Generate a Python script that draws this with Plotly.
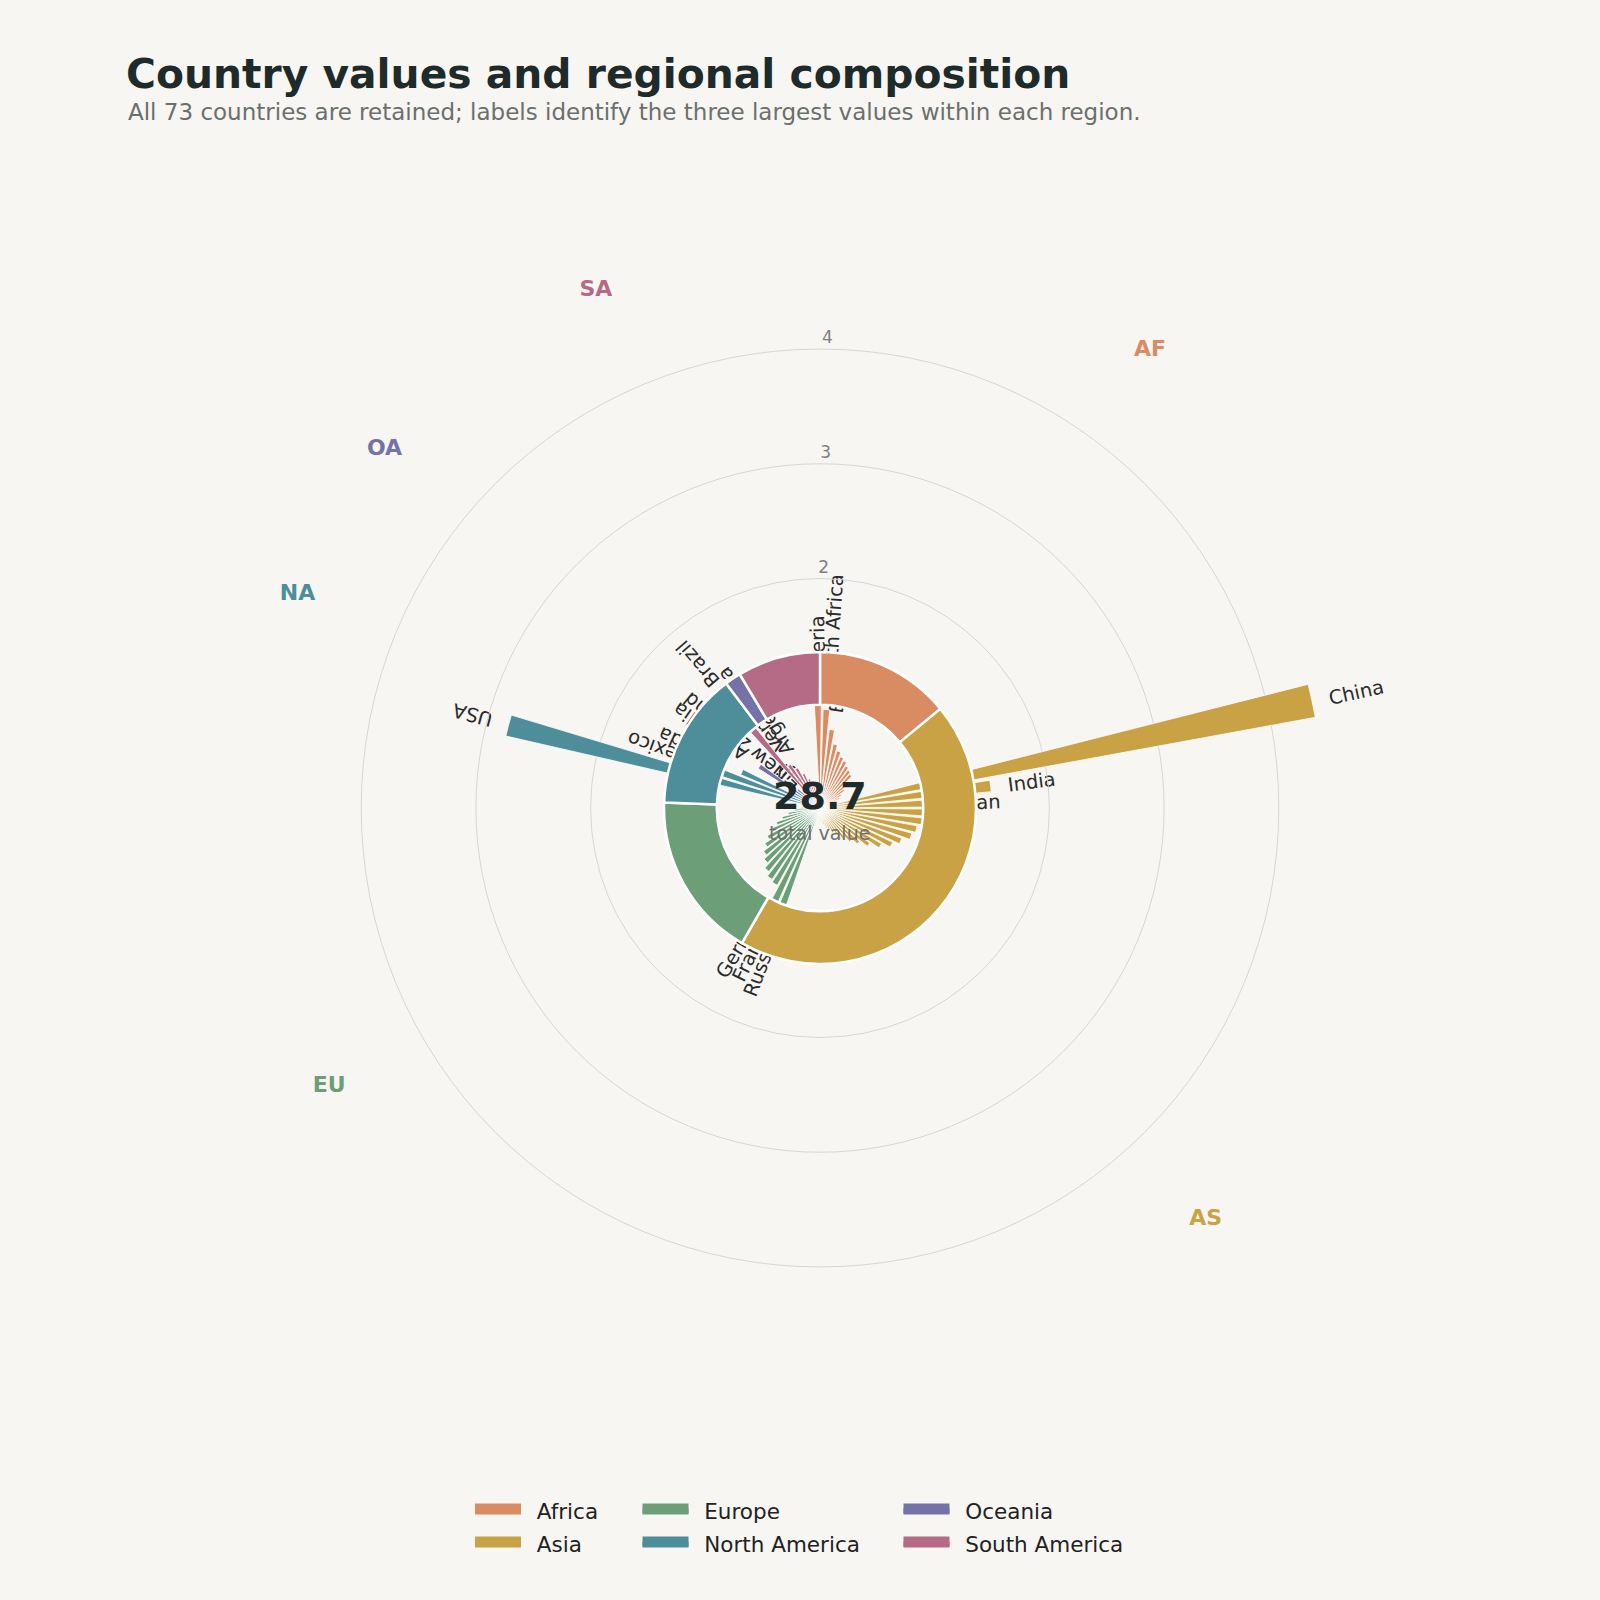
import math
import plotly.graph_objects as go

# ---------------- data ----------------
regions = ["Africa", "Asia", "Europe", "North America", "Oceania", "South America"]
region_codes = ["AF", "AS", "EU", "NA", "OA", "SA"]
region_colors = ["#D98B62", "#C8A245", "#6C9E78", "#4E8E9A", "#7472A6", "#B56A86"]
# regional totals (shares of the composition ring)
region_totals = [4.03, 12.72, 4.94, 4.07, 0.48, 2.47]

africa_names = ["Nigeria", "South Africa", "Egypt", "Algeria", "Morocco", "Kenya", "Ethiopia", "Ghana",
                "Angola", "Tanzania", "Côte d'Ivoire", "Cameroon", "Uganda", "Tunisia", "Zambia", "Senegal"]
africa_values = [0.92, 0.86, 0.69, 0.57, 0.52, 0.48, 0.46, 0.43, 0.41, 0.39, 0.31, 0.26, 0.22, 0.19, 0.16, 0.13]

asia_names = ["China", "India", "Japan", "South Korea", "Indonesia", "Iran", "Saudi Arabia", "Thailand",
              "Pakistan", "Vietnam", "Malaysia", "Philippines", "Bangladesh", "Kazakhstan", "UAE", "Iraq",
              "Israel", "Singapore", "Uzbekistan", "Qatar", "Kuwait", "Sri Lanka", "Myanmar", "Nepal", "Jordan"]
asia_values = [4.39, 1.50, 0.95, 0.93, 0.91, 0.86, 0.83, 0.76, 0.70, 0.62, 0.53, 0.45, 0.39, 0.33, 0.28,
               0.24, 0.21, 0.18, 0.15, 0.13, 0.11, 0.09, 0.07, 0.05, 0.04]

europe_names = ["Russia", "France", "Germany", "United Kingdom", "Italy", "Spain", "Poland", "Netherlands",
                "Ukraine", "Belgium", "Sweden", "Czechia", "Austria", "Romania", "Greece", "Portugal", "Norway"]
europe_values = [1.05, 0.95, 0.77, 0.75, 0.71, 0.66, 0.62, 0.57, 0.52, 0.46, 0.40, 0.34, 0.28, 0.22, 0.17,
                 0.12, 0.08]

north_america_names = ["USA", "Mexico", "Canada", "Cuba"]
north_america_values = [2.81, 1.04, 0.75, 0.30]

oceania_names = ["Australia", "New Zealand", "Fiji"]
oceania_values = [0.64, 0.25, 0.12]

south_america_names = ["Brazil", "Venezuela", "Argentina", "Colombia", "Chile", "Peru", "Ecuador", "Uruguay"]
south_america_values = [1.26, 0.46, 0.40, 0.33, 0.27, 0.21, 0.15, 0.10]

radial_ticks = [2, 3, 4]
center_label = "total value"
title_text = "Country values and regional composition"
subtitle_text = "All 73 countries are retained; labels identify the three largest values within each region."

# ---------------- derived ----------------
groups = [
    (africa_names, africa_values),
    (asia_names, asia_values),
    (europe_names, europe_values),
    (north_america_names, north_america_values),
    (oceania_names, oceania_values),
    (south_america_names, south_america_values),
]
n_total = sum(len(g[0]) for g in groups)
step = 360.0 / n_total
THETA_OFFSET = -1.2
total_value = sum(region_totals)

BG = "#F7F6F2"
RMAX = 5.2
PX_PER_UNIT = 114.7
CX, CY = 820.0, 808.0          # polar centre in pixels (page 1600x1600, margins 0)
W = H = 1600.0
half = RMAX * PX_PER_UNIT
dom_x = [(CX - half) / W, (CX + half) / W]
dom_y = [1 - (CY + half) / H, 1 - (CY - half) / H]

DONUT_BASE = 0.90
DONUT_H = 0.46
LABEL_PAD = 0.15


def to_paper(r, theta_deg):
    t = math.radians(theta_deg)
    x = CX + r * PX_PER_UNIT * math.sin(t)
    y = CY - r * PX_PER_UNIT * math.cos(t)
    return x / W, 1 - y / H


fig = go.Figure()

shapes = []
idx = 0
region_mid = []
for gi, (names, vals) in enumerate(groups):
    thetas = [(idx + k) * step + THETA_OFFSET for k in range(len(vals))]
    fig.add_trace(go.Barpolar(
        r=vals, theta=thetas, width=[step * 0.78] * len(vals),
        marker=dict(color=region_colors[gi], line=dict(color="white", width=0.8)),
        name=regions[gi], showlegend=False, text=names,
        hovertemplate="%{text}: %{r}<extra></extra>",
    ))
    region_mid.append(sum(thetas) / len(thetas))
    # labels of the three largest values (drawn beneath the ring, as in the reference)
    order = sorted(range(len(vals)), key=lambda k: -vals[k])[:3]
    for k in order:
        th = thetas[k] % 360
        r0 = vals[k] + LABEL_PAD
        x0, y0 = to_paper(r0, th)
        x1, y1 = to_paper(r0 + 0.5, th)
        if 90 <= th < 270:
            ang = th + 90
            xanchor = "right"
        else:
            ang = th - 90
            xanchor = "left"
        ang = ((ang + 180) % 360) - 180
        shapes.append(dict(
            type="line", xref="paper", yref="paper", x0=x0, y0=y0, x1=x1, y1=y1,
            line=dict(color="rgba(0,0,0,0)", width=0), layer="below",
            label=dict(text=names[k], textangle=ang, textposition="start", xanchor=xanchor,
                       yanchor="middle", padding=0,
                       font=dict(family="DejaVu Sans", size=19.5, color="#2B2B2B")),
        ))
    idx += len(vals)

# regional composition ring
cum = 0.0
ring_theta, ring_width = [], []
for s in region_totals:
    w = s / total_value * 360.0
    ring_theta.append(cum + w / 2)
    ring_width.append(w)
    cum += w
fig.add_trace(go.Barpolar(
    r=[DONUT_H] * len(region_totals), base=[DONUT_BASE] * len(region_totals), theta=ring_theta,
    width=ring_width,
    marker=dict(color=region_colors, line=dict(color="white", width=2.5)),
    text=regions, hovertemplate="%{text}: %{customdata:.2f}<extra></extra>", customdata=region_totals,
    showlegend=False,
))

# radial tick labels
fig.add_trace(go.Scatterpolar(
    r=[t + 0.09 for t in radial_ticks], theta=[0.9] * len(radial_ticks), mode="text",
    text=[str(t) for t in radial_ticks], textfont=dict(family="DejaVu Sans", size=17, color="#7F7F7F"),
    showlegend=False, hoverinfo="skip", cliponaxis=False,
))

# region codes
fig.add_trace(go.Scatterpolar(
    r=[4.92] * len(region_codes), theta=region_mid, mode="text", text=region_codes,
    textfont=dict(family="DejaVu Sans", size=22, color=region_colors, weight="bold"),
    showlegend=False, hoverinfo="skip", cliponaxis=False,
))

# legend-only entries (3 columns, column-major like the reference)
legend_cols = [("legend", [0, 1]), ("legend2", [2, 3]), ("legend3", [4, 5])]
for lg, members in legend_cols:
    for gi in members:
        fig.add_trace(go.Scatterpolar(
            r=[None], theta=[None], mode="lines", fill="toself", fillcolor=region_colors[gi],
            name="\u2002" + regions[gi], legend=lg, legendgroup=regions[gi],
            line=dict(color=region_colors[gi], width=10), showlegend=True, hoverinfo="skip",
        ))

cx_p = CX / W
annotations = [
    dict(x=cx_p, y=1 - 796 / H, xref="paper", yref="paper", text=f"<b>{total_value:.1f}</b>",
         showarrow=False, font=dict(family="DejaVu Sans", size=38, color="#1E2B2A"),
         xanchor="center", yanchor="middle"),
    dict(x=cx_p, y=1 - 833 / H, xref="paper", yref="paper", text=center_label,
         showarrow=False, font=dict(family="DejaVu Sans", size=19, color="#6F6F6F"),
         xanchor="center", yanchor="middle"),
    dict(x=126 / W, y=1 - 112 / H, xref="paper", yref="paper", text=subtitle_text,
         showarrow=False, font=dict(family="DejaVu Sans", size=23, color="#6B6F6D"),
         xanchor="left", yanchor="middle"),
]

legend_common = dict(orientation="v", bgcolor="rgba(0,0,0,0)",
                     font=dict(family="DejaVu Sans", size=21.5, color="#222222"),
                     yanchor="top", itemwidth=46, tracegroupgap=2)
fig.update_layout(
    width=1600, height=1600,
    margin=dict(l=0, r=0, t=0, b=0),
    paper_bgcolor=BG, plot_bgcolor=BG,
    title=dict(text=f"<b>{title_text}</b>", x=126 / W, xanchor="left", y=1 - 74 / H, yanchor="middle",
               xref="paper", yref="paper",
               font=dict(family="DejaVu Sans", size=40.8, color="#1E2B2A")),
    polar=dict(
        domain=dict(x=dom_x, y=dom_y),
        bgcolor="rgba(0,0,0,0)",
        angularaxis=dict(rotation=90, direction="clockwise", showgrid=False, showline=False,
                         showticklabels=False, ticks=""),
        radialaxis=dict(range=[0, RMAX], tickvals=radial_ticks, showticklabels=False, ticks="",
                        showline=False, gridcolor="#D6D6D4", gridwidth=1.2),
        bargap=0,
    ),
    shapes=shapes,
    annotations=annotations,
    legend=dict(x=470 / W, y=1 - 1490 / H, **legend_common),
    legend2=dict(x=637.5 / W, y=1 - 1490 / H, **legend_common),
    legend3=dict(x=898.5 / W, y=1 - 1490 / H, **legend_common),
    showlegend=True,
)

fig.write_html(
    "out.html",
    config={"displayModeBar": False},
    post_script="document.body.style.margin='0';document.body.style.background='" + BG + "';",
)
